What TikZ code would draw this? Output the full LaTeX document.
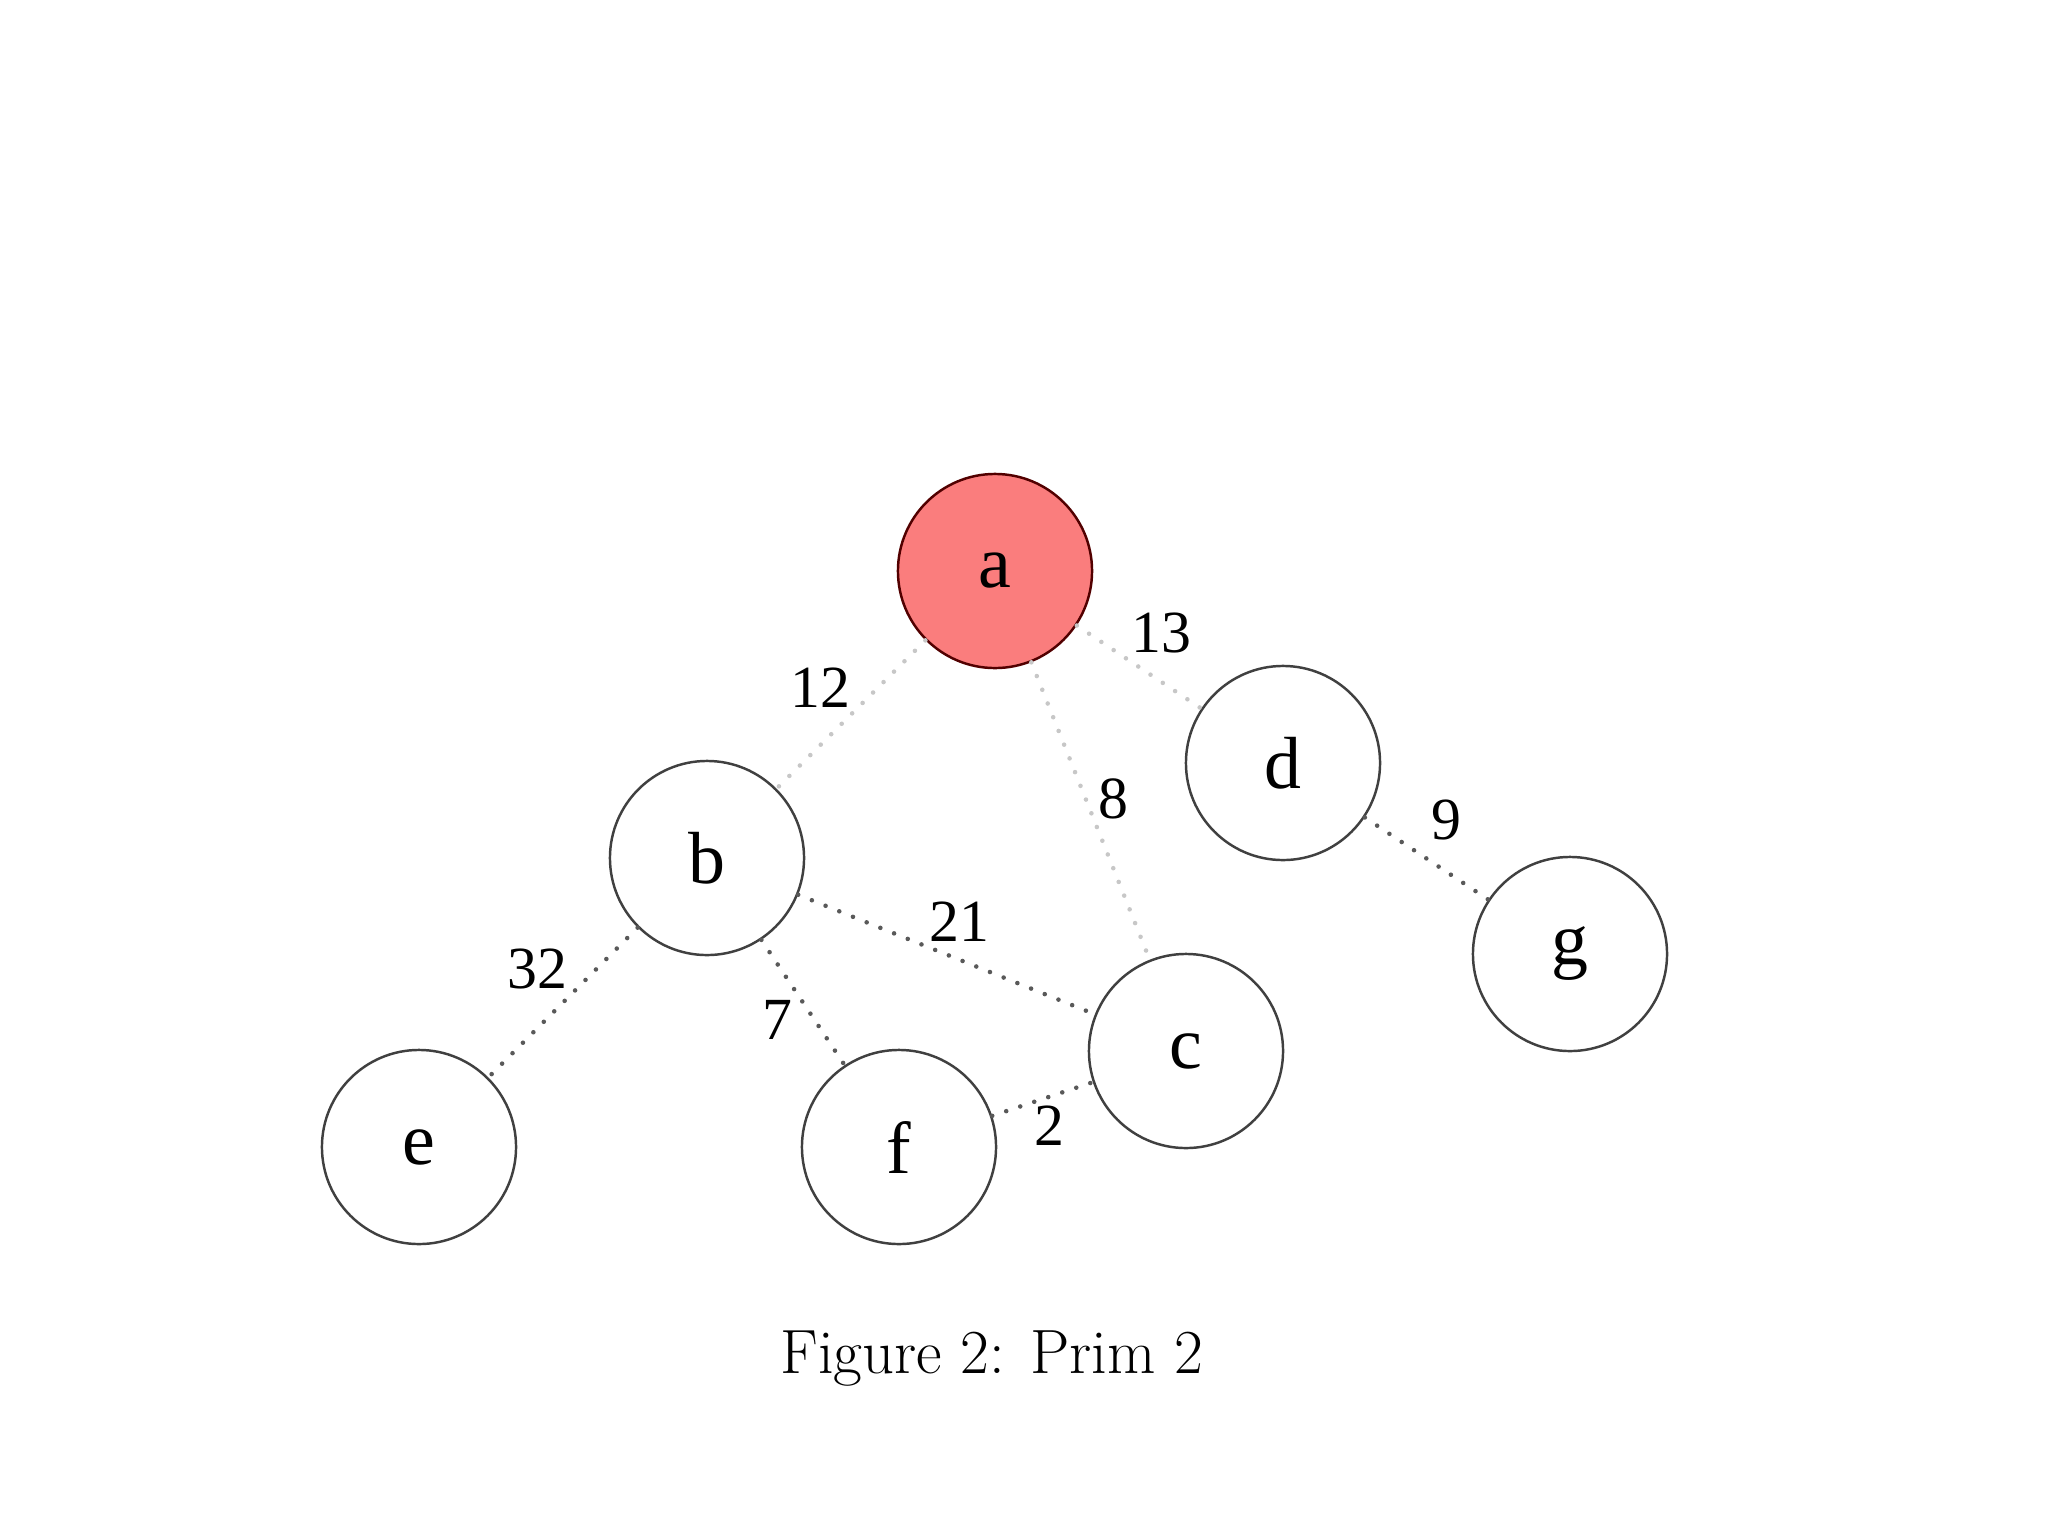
\documentclass[tikz,border=0pt]{standalone}
\usepackage{fontspec}
\newfontfamily\graphfont{Liberation Serif}
\definecolor{salmon}{RGB}{250,125,125}
\begin{document}
\begin{tikzpicture}[x=0.01cm,y=-0.01cm,
  vertex/.style={circle,draw=black!75,line width=0.7pt,minimum size=1.94cm,inner sep=0pt,
    font=\graphfont\fontsize{21}{25}\selectfont},
  start/.style={vertex,fill=salmon,draw=black!60!red!80!black},
  weight/.style={inner sep=0pt,font=\graphfont\fontsize{17}{20}\selectfont},
  edge/.style={draw=black!65,line width=1.3pt,line cap=round,dash pattern=on 0pt off 4.2pt},
  faint/.style={edge,draw=black!22}]
\useasboundingbox (0,0) rectangle (2048,1536);
% vertices
\node[start]  (a) at (995,571)  {a};
\node[vertex] (b) at (707,858)  {b};
\node[vertex] (c) at (1186,1051) {c};
\node[vertex] (d) at (1283,763) {d};
\node[vertex] (e) at (419,1147) {e};
\node[vertex] (f) at (899,1147) {f};
\node[vertex] (g) at (1570,954) {g};
% edges
\draw[faint] (a) -- (b);
\draw[faint] (a) -- (d);
\draw[faint] (a) -- (c);
\draw[edge] (b) -- (c);
\draw[edge] (b) -- (e);
\draw[edge] (b) -- (f);
\draw[edge] (f) -- (c);
\draw[edge] (d) -- (g);
% weights
\node[weight] (wab) at (820,688)  {12};
\node[weight] (wad) at (1161,633) {13};
\node[weight] (wac) at (1113,799) {8};
\node[weight] (wdg) at (1446,820) {9};
\node[weight] (wbc) at (959,922)  {21};
\node[weight] (wbe) at (537,969)  {32};
\node[weight] (wbf) at (777,1020) {7};
\node[weight] (wfc) at (1049,1126) {2};
% caption
\node[anchor=base,inner sep=0pt,font=\fontsize{17.8}{21}\selectfont] (cap) at (992,1373) {Figure 2: Prim 2};
\end{tikzpicture}
\end{document}
